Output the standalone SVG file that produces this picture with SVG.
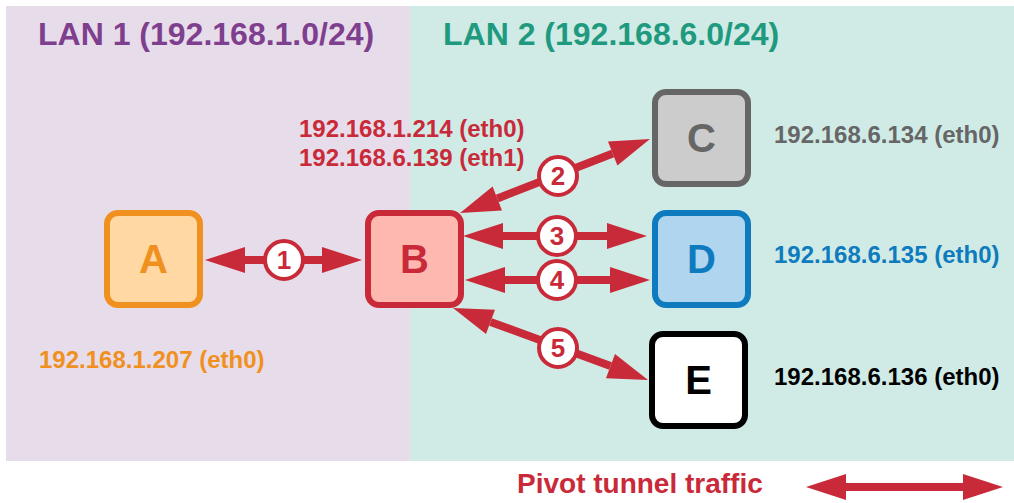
<svg xmlns="http://www.w3.org/2000/svg" width="1014" height="503" viewBox="0 0 1014 503">
  <defs>
    <marker id="head" markerUnits="userSpaceOnUse" markerWidth="42" markerHeight="28" viewBox="-1 -14 42 28" refX="0" refY="0" orient="auto-start-reverse">
      <path d="M0,-13 L40,0 L0,13 z" fill="#c92a39"/>
    </marker>
  </defs>
  <style>
    text { font-family: "Liberation Sans", Arial, sans-serif; font-weight: bold; }
    .title { font-size: 32px; }
    .ip { font-size: 24px; }
    .node rect { stroke-width: 6; }
    .node text { font-size: 40px; text-anchor: middle; }
    .link { stroke: #c92a39; stroke-width: 8; fill: none; marker-start: url(#head); marker-end: url(#head); }
    .badge circle { fill: #fff; stroke: #c92a39; stroke-width: 4; }
    .badge text { font-size: 26px; fill: #c92a39; text-anchor: middle; }
  </style>

  <rect width="1014" height="503" fill="#fff"/>
  <!-- network zones -->
  <rect x="6" y="6" width="404" height="455" fill="#e7dce9"/>
  <rect x="410" y="6" width="604" height="455" fill="#d0ebe6"/>
  <text class="title" x="38" y="45" fill="#7f3f8f">LAN 1 (192.168.1.0/24)</text>
  <text class="title" x="443" y="45" fill="#1f9a7f">LAN 2 (192.168.6.0/24)</text>

  <!-- connectors -->
  <g id="connectors">
    <line class="link" x1="245" y1="260" x2="322" y2="260"/>
    <line class="link" x1="497.3" y1="198.5" x2="612.7" y2="153.5"/>
    <line class="link" x1="503" y1="236" x2="607" y2="236"/>
    <line class="link" x1="505" y1="280" x2="610" y2="280"/>
    <line class="link" x1="490.5" y1="321.9" x2="610.5" y2="366.1"/>
    <g class="badge"><circle cx="284" cy="260" r="19"/><text x="284" y="269">1</text></g>
    <g class="badge"><circle cx="558" cy="176" r="19"/><text x="558" y="185">2</text></g>
    <g class="badge"><circle cx="557" cy="236" r="19"/><text x="557" y="245">3</text></g>
    <g class="badge"><circle cx="557" cy="280" r="19"/><text x="557" y="289">4</text></g>
    <g class="badge"><circle cx="558" cy="348" r="19"/><text x="558" y="357">5</text></g>
  </g>

  <!-- hosts -->
  <g id="node-a" class="node">
    <rect x="107" y="213" width="93" height="92" rx="11" fill="#ffd8a4" stroke="#f0901e"/>
    <text x="153.5" y="273" fill="#f0901e">A</text>
  </g>
  <g id="node-b" class="node">
    <rect x="368" y="213" width="93" height="92" rx="11" fill="#ffb8b0" stroke="#c92a39"/>
    <text x="414.5" y="273" fill="#c92a39">B</text>
  </g>
  <g id="node-c" class="node">
    <rect x="655" y="92" width="93" height="92" rx="11" fill="#cccccc" stroke="#666666"/>
    <text x="701.5" y="152" fill="#666666">C</text>
  </g>
  <g id="node-d" class="node">
    <rect x="655" y="213" width="93" height="92" rx="11" fill="#b0d5ee" stroke="#0f7bbf"/>
    <text x="701.5" y="273" fill="#0f7bbf">D</text>
  </g>
  <g id="node-e" class="node">
    <rect x="652" y="334" width="93" height="92" rx="11" fill="#ffffff" stroke="#000000"/>
    <text x="698.5" y="394" fill="#000000">E</text>
  </g>

  <!-- addresses -->
  <text class="ip" x="299" y="137" fill="#c92a39">192.168.1.214 (eth0)</text>
  <text class="ip" x="299" y="166" fill="#c92a39">192.168.6.139 (eth1)</text>
  <text class="ip" x="39" y="368" fill="#f0901e">192.168.1.207 (eth0)</text>
  <text class="ip" x="774" y="143" fill="#666666">192.168.6.134 (eth0)</text>
  <text class="ip" x="774" y="263" fill="#0f7bbf">192.168.6.135 (eth0)</text>
  <text class="ip" x="774" y="385" fill="#000000">192.168.6.136 (eth0)</text>

  <!-- legend -->
  <g id="legend">
    <text x="517" y="493" font-size="28" fill="#c92a39">Pivot tunnel traffic</text>
    <line class="link" x1="846" y1="487" x2="963" y2="487"/>
  </g>
</svg>
